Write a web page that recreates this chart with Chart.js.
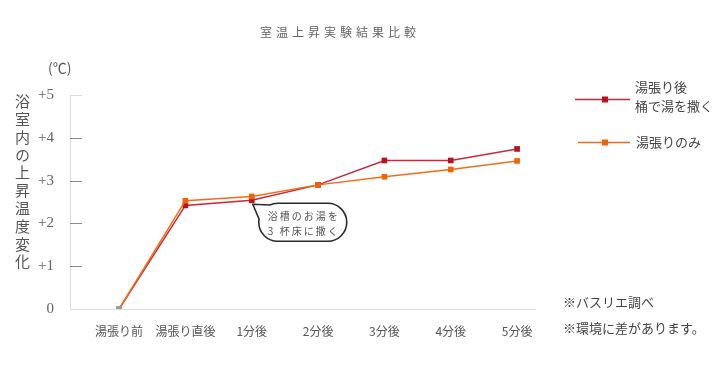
<!DOCTYPE html>
<html lang="ja">
<head>
<meta charset="utf-8">
<title>室温上昇実験結果比較</title>
<script src="https://cdn.jsdelivr.net/npm/chart.js@4.4.1/dist/chart.umd.min.js"></script>
<style>
  body { margin: 0; background: #fff; font-family: "Noto Sans CJK JP", sans-serif; color: #555; }
  #wrap { position: relative; width: 720px; height: 375px; overflow: hidden; }
  #chart { position: absolute; left: 0; top: 0; }
  .title { position: absolute; left: 260px; top: 25px; font-size: 12px; line-height: 14px; letter-spacing: 4px; color: #666; }
  .unit { position: absolute; left: 48px; top: 59px; font-size: 14px; line-height: 16px; color: #555; }
  .ytitle { position: absolute; left: 14px; top: 94px; writing-mode: vertical-rl; font-size: 15px; line-height: 16px; letter-spacing: 2.8px; color: #555; }
  .note { position: absolute; left: 563px; font-size: 13px; line-height: 16px; color: #444; }
</style>
</head>
<body>
<div id="wrap">
  <canvas id="chart" width="720" height="375"></canvas>
  <div class="title">室温上昇実験結果比較</div>
  <div class="unit">(℃)</div>
  <div class="ytitle">浴室内の上昇温度変化</div>
  <div class="note" style="top:294px">※バスリエ調べ</div>
  <div class="note" style="top:320px">※環境に差があります。</div>
</div>
<script>
// timing of each reading
const categories = ["湯張り前", "湯張り直後", "1分後", "2分後", "3分後", "4分後", "5分後"];

// temperature rise (°C) per series
const splashValues = [0, 2.42, 2.54, 2.9, 3.47, 3.47, 3.74]; // 湯張り後 桶で湯を撒く
const fillOnlyValues = [0, 2.53, 2.63, 2.9, 3.09, 3.26, 3.46]; // 湯張りのみ

const splashLabel = ["湯張り後", "桶で湯を撒く"];
const fillOnlyLabel = ["湯張りのみ"];

const yTicks = [0, 1, 2, 3, 4, 5];
const calloutText = ["浴槽のお湯を", "3 杯床に撒く"];
const calloutIndex = 2;

const RED = "#c8283a";
const RED_MARK = "#b8141f";
const ORANGE = "#f26d12";
const ORANGE_MARK = "#f06408";
const START_MARK = "#9a9a9a";

const toPoints = (values) => values.map((v, i) => ({ x: i, y: v }));

// short tick dashes on the inside of the y axis, callout bubble and legend
const decorations = {
    id: "decorations",
    beforeDatasetsDraw(chart) {
        const ctx = chart.ctx;
        const y = chart.scales.y;
        const left = chart.chartArea.left;
        ctx.save();
        ctx.lineWidth = 1;
        yTicks.forEach((t) => {
            if (t === 0) return;
            const py = Math.round(y.getPixelForValue(t)) + 0.5;
            ctx.strokeStyle = t === 5 ? "#dddddd" : "#8c8c8c";
            ctx.beginPath();
            ctx.moveTo(left, py);
            ctx.lineTo(left + 12, py);
            ctx.stroke();
        });
        ctx.restore();
    },
    afterDatasetsDraw(chart) {
        const ctx = chart.ctx;
        const px = chart.scales.x.getPixelForValue(calloutIndex);
        const py = chart.scales.y.getPixelForValue(splashValues[calloutIndex]);
        const rad = (d) => (d * Math.PI) / 180;

        // speech bubble
        ctx.save();
        ctx.translate(px, py);
        ctx.beginPath();
        ctx.moveTo(1, 4);
        ctx.arc(26, 22, 19, rad(-115), rad(-90));
        ctx.arc(76, 22, 19, rad(-90), rad(90));
        ctx.arc(26, 22, 19, rad(90), rad(190));
        ctx.closePath();
        ctx.fillStyle = "#ffffff";
        ctx.fill();
        ctx.lineWidth = 1.6;
        ctx.strokeStyle = "#2b2b2b";
        ctx.lineJoin = "round";
        ctx.stroke();
        ctx.fillStyle = "#555";
        ctx.font = "10px 'Noto Sans CJK JP'";
        ctx.letterSpacing = "2px";
        ctx.textAlign = "center";
        ctx.textBaseline = "middle";
        ctx.fillText(calloutText[0], 52, 16);
        ctx.fillText(calloutText[1], 52, 31);
        ctx.restore();

        // legend
        const entries = [
            { label: splashLabel, line: RED, mark: RED_MARK, y: 99, x0: 575 },
            { label: fillOnlyLabel, line: ORANGE, mark: ORANGE_MARK, y: 142, x0: 578 },
        ];
        ctx.save();
        ctx.font = "13px 'Noto Sans CJK JP'";
        ctx.textBaseline = "middle";
        entries.forEach((e) => {
            ctx.strokeStyle = e.line;
            ctx.lineWidth = 1.5;
            ctx.beginPath();
            ctx.moveTo(e.x0, e.y + 0.5);
            ctx.lineTo(630, e.y + 0.5);
            ctx.stroke();
            ctx.fillStyle = e.mark;
            ctx.fillRect(602, e.y - 2.5, 6, 6);
            ctx.fillStyle = "#444";
            if (e.label.length === 2) {
                ctx.fillText(e.label[0], 635, e.y - 12);
                ctx.fillText(e.label[1], 635, e.y + 7);
            } else {
                ctx.fillText(e.label[0], 636, e.y);
            }
        });
        ctx.restore();
    },
};

const markColors = (values, color) => values.map((v, i) => (i === 0 ? START_MARK : color));

new Chart(document.getElementById("chart"), {
    type: "line",
    data: {
        datasets: [
            {
                label: splashLabel.join(""),
                data: toPoints(splashValues),
                borderColor: RED,
                borderWidth: 1.5,
                pointStyle: "rect",
                pointRadius: 4,
                pointBorderWidth: 0,
                pointBackgroundColor: markColors(splashValues, RED_MARK),
                tension: 0,
                order: 2,
            },
            {
                label: fillOnlyLabel.join(""),
                data: toPoints(fillOnlyValues),
                borderColor: ORANGE,
                borderWidth: 1.5,
                pointStyle: "rect",
                pointRadius: 4,
                pointBorderWidth: 0,
                pointBackgroundColor: markColors(fillOnlyValues, ORANGE_MARK),
                tension: 0,
                order: 1,
            },
        ],
    },
    options: {
        responsive: false,
        animation: false,
        devicePixelRatio: 1,
        layout: { padding: { top: 95, right: 185, bottom: 0, left: 0 } },
        plugins: {
            legend: { display: false },
            title: { display: false },
            tooltip: { enabled: false },
        },
        scales: {
            x: {
                type: "linear",
                min: -0.74,
                max: 6.27,
                afterBuildTicks: (scale) => {
                    scale.ticks = categories.map((c, i) => ({ value: i }));
                },
                afterFit: (scale) => {
                    scale.height = 66;
                },
                grid: { display: false },
                border: { display: true, color: "#dcdcdc", width: 1 },
                ticks: {
                    autoSkip: false,
                    maxRotation: 0,
                    padding: 7,
                    color: "#555",
                    font: { family: "'Noto Sans CJK JP'", size: 12 },
                    callback: (v) => categories[v],
                },
            },
            y: {
                min: 0,
                max: 5,
                afterFit: (scale) => {
                    scale.width = 70;
                },
                afterBuildTicks: (scale) => {
                    scale.ticks = yTicks.map((v) => ({ value: v }));
                },
                grid: { display: false },
                border: { display: true, color: "#dcdcdc", width: 1 },
                ticks: {
                    padding: 8,
                    color: "#666",
                    font: { family: "'Liberation Serif', serif", size: 15 },
                    callback: (v) => (v === 0 ? "0" : "+" + v),
                },
            },
        },
    },
    plugins: [decorations],
});
</script>
</body>
</html>
